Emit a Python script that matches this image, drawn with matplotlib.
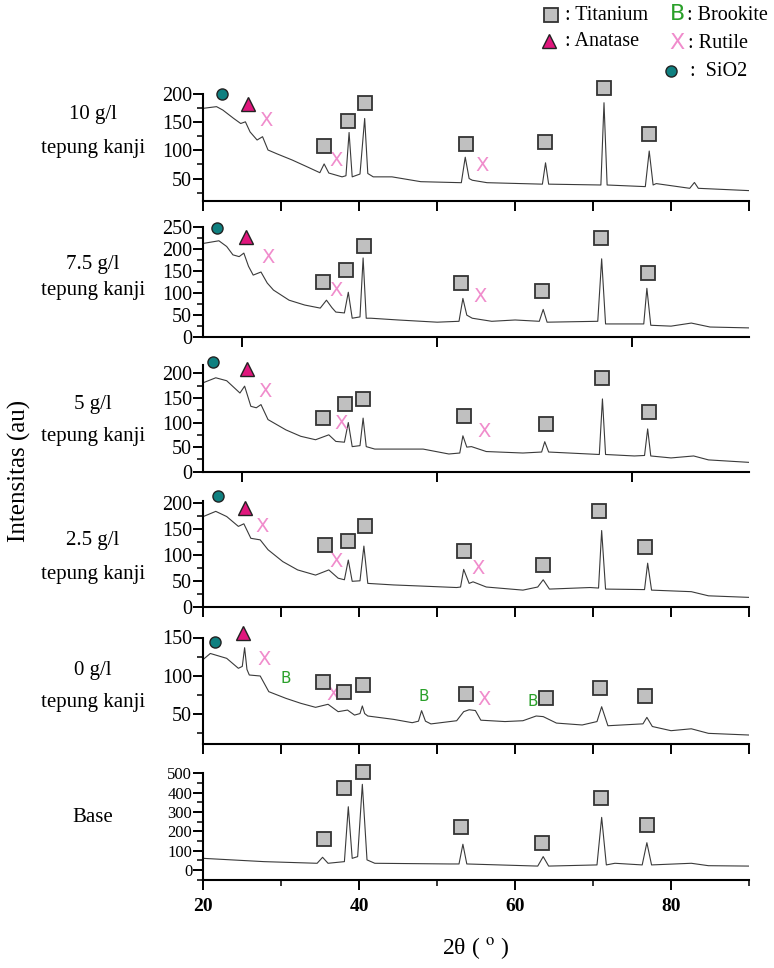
import matplotlib.pyplot as plt
from matplotlib.lines import Line2D
from matplotlib.ticker import MultipleLocator, FixedLocator, NullFormatter

plt.rcParams['font.family'] = ['Liberation Serif', 'DejaVu Serif']
plt.rcParams['mathtext.fontset'] = 'stix'

# ---- XRD traces (2theta, intensity) ----
x_10 = [20, 21, 21.7, 22.5, 23.9, 24.8, 25.4, 26.0, 26.9, 27.6, 28.3, 29.5, 31.4, 33.3, 34.95, 35.5, 36.1,
        37.8, 38.3, 38.7, 39.1, 40.1, 40.7, 41.1, 41.8, 44.2, 47.9, 53.1, 53.6, 54.1, 54.5, 56.4, 63.5, 63.9,
        64.3, 71.0, 71.4, 71.8, 76.7, 77.2, 77.7, 78.1, 82.4, 83.0, 83.5, 90]
y_10 = [175, 176.8, 178, 172, 157, 148, 151, 133, 118.6, 124.5, 100.8, 93.7, 83, 71, 60.4, 76, 59.8,
        53, 55, 132, 53, 58, 157, 59, 53, 53, 44.4, 42.6, 88, 50, 47, 42.6, 40, 78,
        40, 38.5, 185, 38.5, 35.6, 99, 38.5, 41, 32.6, 43, 32.6, 28.5]

x_75 = [20, 21.0, 22.0, 23.0, 23.8, 24.6, 25.2, 25.8, 26.4, 27.4, 28.2, 29.0, 31.0, 33.0, 35.0, 35.8, 36.5,
        37.0, 38.1, 38.6, 39.1, 40.1, 40.5, 40.9, 41.5, 45, 50, 52.8, 53.3, 53.8, 54.5, 57, 60, 63.1, 63.6,
        64.1, 70.6, 71.1, 71.6, 76.5, 76.9, 77.4, 80, 82.6, 85, 90]
y_75 = [212, 215, 218, 205, 186, 182, 190, 160, 140, 147, 122, 106, 83, 72, 65, 83, 66,
        56, 54, 101, 42, 45, 179, 42, 42, 38, 33, 35, 87, 49, 42, 35, 38, 35, 62,
        33, 35, 177, 29, 29, 110, 26, 24, 31, 22, 20]

x_5 = [20, 21.6, 23.0, 24.7, 25.3, 26.1, 26.8, 27.4, 28.3, 30.6, 32.5, 34.4, 36.1, 37.0, 38.1, 38.6, 39.1,
       40.1, 40.5, 40.9, 42.0, 48.2, 51.5, 52.9, 53.3, 53.8, 54.4, 56.3, 61.0, 63.4, 63.8, 64.3, 70.8, 71.2,
       71.6, 75.3, 76.6, 77.0, 77.4, 80, 82.9, 84.8, 90]
y_5 = [181, 191, 185, 160, 174, 133, 130, 136.5, 106, 85, 72, 65, 75, 61.6, 60, 100, 51,
       53, 109, 51, 46, 46, 36, 38, 73, 50, 51, 41, 38, 40, 61, 40, 35, 148,
       35, 32, 33, 87, 32, 28, 32, 24, 19]

x_25 = [20, 21.6, 23.0, 24.5, 25.2, 26.1, 27.3, 28.3, 30.2, 32.1, 34.4, 36.1, 37.3, 38.1, 38.6, 39.1, 40.1,
        40.6, 41.1, 44.4, 47.7, 52.5, 53.0, 53.4, 54.1, 54.6, 56.3, 61, 62.9, 63.6, 64.4, 69.6, 70.7, 71.1,
        71.6, 76.6, 77.0, 77.5, 82.6, 84.8, 90]
y_25 = [174, 184, 174, 155, 160, 132, 129, 110, 87, 71, 61, 71, 55, 52, 90, 49, 50,
        117, 45, 42, 40, 37, 38, 72, 45, 48, 38, 32, 38, 52, 34, 37, 36, 147,
        34, 33, 84, 32, 29, 21, 18]

x_0 = [20, 20.9, 23.0, 24.5, 25.0, 25.3, 25.6, 25.9, 27.3, 28.4, 30.6, 32.5, 34.4, 36.0, 37.3, 38.5, 39.4,
       40.1, 40.4, 40.7, 41.1, 44.4, 46.8, 47.6, 48.0, 48.5, 49.2, 52.5, 53.4, 54.1, 54.9, 55.6, 58.7, 61.0,
       62.7, 63.6, 65.3, 68.6, 70.5, 71.1, 71.9, 76.4, 76.9, 77.6, 80, 82.6, 84.8, 90]
y_0 = [121.3, 129, 122.6, 109.5, 112, 136.6, 108, 100.7, 99.4, 78.8, 70, 63.5, 58.2, 62.2, 52.5, 54.6, 48,
       50, 60, 50, 46.8, 42.4, 38, 40, 53.8, 40, 36.4, 40.6, 52.5, 55, 54, 41.3, 39.5, 40.6,
       46.8, 46, 37.5, 35, 39.5, 59, 34, 36.5, 45, 33, 27.5, 30, 24, 21.8]

x_base = [20, 27.8, 34.6, 35.3, 36.0, 38.1, 38.6, 39.1, 39.8, 40.4, 41.0, 42.0, 51.5, 52.8, 53.3, 53.8,
          62.9, 63.6, 64.3, 70.5, 71.1, 71.7, 72.8, 76.3, 76.9, 77.5, 82.6, 84.8, 90]
y_base = [60, 43, 34.5, 65.5, 34.5, 43, 327, 60, 69, 443, 52, 34.5, 31, 31, 133, 31,
          20, 69, 20, 26, 272, 26, 34.5, 26, 141, 26, 34.5, 22, 20]

# ---- phase markers (2theta, intensity) ----
ti_10 = [(35.5, 108.5), (38.6, 153), (40.7, 185), (53.7, 111), (63.8, 114.5), (71.4, 211.8), (77.2, 128.8)]
ru_10 = [(28.0, 153), (37.0, 83), (55.75, 73)]
an_10 = [(25.75, 182.7)]
si_10 = [(22.45, 200)]

ti_75 = [(35.4, 124), (38.3, 151), (40.6, 206), (53.0, 121), (63.4, 104), (71.0, 224), (77.1, 144)]
ru_75 = [(28.3, 181), (37.0, 106), (55.5, 92.5)]
an_75 = [(25.5, 227)]
si_75 = [(21.8, 246)]

ti_5 = [(35.4, 109), (38.2, 138), (40.5, 147), (53.4, 114), (63.9, 97), (71.2, 190), (77.2, 122)]
ru_5 = [(27.9, 164), (37.7, 99), (56.0, 82)]
an_5 = [(25.65, 209.6)]
si_5 = [(21.2, 223)]

ti_25 = [(35.6, 119), (38.5, 127), (40.75, 155), (53.4, 108), (63.6, 81), (70.75, 184), (76.7, 115)]
ru_25 = [(27.55, 155), (37.05, 87), (55.3, 74)]
an_25 = [(25.4, 190)]
si_25 = [(21.85, 214)]

ti_0 = [(35.4, 91), (38.0, 78), (40.5, 87.6), (53.7, 75.7), (63.9, 70.9), (70.9, 84), (76.7, 73)]
ru_0 = [(27.8, 121), (36.7, 75.7), (56.0, 68.8)]
an_0 = [(25.1, 155.5)]
si_0 = [(21.5, 144.5)]
br_0 = [(30.6, 96.4), (48.3, 72), (62.2, 65.6)]

ti_base = [(35.5, 160), (38.0, 426), (40.5, 509), (53.0, 221), (63.4, 141), (71.0, 374), (76.9, 233)]

names = ['10 g/l', '7.5 g/l', '5 g/l', '2.5 g/l', '0 g/l', 'Base']

TI = dict(marker='s', ls='none', ms=9.5, mfc='#c0c0c0', mec='#333333', mew=1.3)
AN = dict(marker='^', ls='none', ms=10, mfc='#e0177d', mec='#222222', mew=1.0)
SI = dict(marker='o', ls='none', ms=8, mfc='#0f8080', mec='#222222', mew=1.0)
RU_COL = '#f08ccc'
BR_COL = '#2aa02a'

fig = plt.figure(figsize=(7.74, 9.68), dpi=100)
W, H = 774, 968
left, right = 203.3, 749

# (top px, bottom px, ylim, major step, minor step, xticks)
panels = [
    (94.3, 201, (10, 200), 50, 25, 'ten'),
    (226.7, 336.7, (0, 250), 50, 25, 'quarter'),
    (365, 471.7, (0, 217), 50, 25, 'quarter'),
    (501, 606.7, (0, 204), 50, 25, 'ten'),
    (637.5, 744, (10, 150), 50, 25, 'ten'),
    (773.3, 880, (-52, 500), 100, 50, 'base'),
]
traces = [(x_10, y_10), (x_75, y_75), (x_5, y_5), (x_25, y_25), (x_0, y_0), (x_base, y_base)]
marks = [
    (ti_10, ru_10, an_10, si_10, []),
    (ti_75, ru_75, an_75, si_75, []),
    (ti_5, ru_5, an_5, si_5, []),
    (ti_25, ru_25, an_25, si_25, []),
    (ti_0, ru_0, an_0, si_0, br_0),
    (ti_base, [], [], [], []),
]
label_y = [(115, 149), (264, 290), (405, 437), (540, 575), (670, 702), (818, None)]

for i, (top, bot, ylim, maj, mnr, xt) in enumerate(panels):
    ax = fig.add_axes([left / W, 1 - bot / H, (right - left) / W, (bot - top) / H])
    xs, ys = traces[i]
    ax.plot(xs, ys, color='#3a3a3a', lw=0.8)
    ax.set_xlim(20, 90)
    ax.set_ylim(*ylim)
    for s in ['top', 'right']:
        ax.spines[s].set_visible(False)
    for s in ['left', 'bottom']:
        ax.spines[s].set_linewidth(1.5)
    ax.yaxis.set_major_locator(MultipleLocator(maj))
    ax.yaxis.set_minor_locator(MultipleLocator(mnr))
    if xt == 'ten':
        ax.xaxis.set_major_locator(MultipleLocator(10))
        ax.xaxis.set_minor_locator(FixedLocator([]))
        ax.xaxis.set_major_formatter(NullFormatter())
    elif xt == 'quarter':
        ax.xaxis.set_major_locator(FixedLocator([25, 50, 75]))
        ax.xaxis.set_minor_locator(FixedLocator([]))
        ax.xaxis.set_major_formatter(NullFormatter())
    else:
        ax.xaxis.set_major_locator(MultipleLocator(20))
        ax.xaxis.set_minor_locator(MultipleLocator(10))
    ax.tick_params(axis='both', which='major', direction='out', length=7, width=1.4)
    ax.tick_params(axis='both', which='minor', direction='out', length=4, width=1.1)
    ax.tick_params(axis='y', labelsize=12 if xt == 'base' else 14.5, pad=1)
    ax.tick_params(axis='x', labelsize=14, pad=6)
    if xt == 'base':
        for lab in ax.get_xticklabels():
            lab.set_fontweight('bold')

    ti, ru, an, si, br = marks[i]
    if ti:
        ax.plot([p[0] for p in ti], [p[1] for p in ti], clip_on=False, zorder=5, **TI)
    if an:
        ax.plot([p[0] for p in an], [p[1] for p in an], clip_on=False, zorder=5, **AN)
    if si:
        ax.plot([p[0] for p in si], [p[1] for p in si], clip_on=False, zorder=5, **SI)
    for (px, py) in ru:
        ax.text(px, py, 'X', color=RU_COL, fontsize=14, ha='center', va='center',
                family='DejaVu Sans', clip_on=False)
    for (px, py) in br:
        ax.text(px, py, 'B', color=BR_COL, fontsize=11, ha='center', va='center',
                family='DejaVu Sans', clip_on=False)

    y1, y2 = label_y[i]
    fig.text(93 / W, 1 - y1 / H, names[i], ha='center', va='center', fontsize=15)
    if y2 is not None:
        fig.text(93 / W, 1 - y2 / H, 'tepung kanji', ha='center', va='center', fontsize=15)

fig.text(19 / W, 1 - 471 / H, 'Intensitas (au)', rotation=90, ha='center', va='center', fontsize=18)
fig.text(476 / W, 1 - 948 / H, r'2θ ( $^{\mathrm{o}}$ )', ha='center', va='center', fontsize=17)

# legend at the top right
def fig_marker(px, py, style):
    fig.add_artist(Line2D([px / W], [1 - py / H], transform=fig.transFigure, **style))

fig_marker(551, 15, TI)
fig.text(565 / W, 1 - 15 / H, ': Titanium', ha='left', va='center', fontsize=14.5)
fig.text(678 / W, 1 - 14 / H, 'B', color=BR_COL, ha='center', va='center', fontsize=16, family='DejaVu Sans')
fig.text(687 / W, 1 - 15 / H, ': Brookite', ha='left', va='center', fontsize=14.5)
fig_marker(549, 41, AN)
fig.text(565 / W, 1 - 42 / H, ': Anatase', ha='left', va='center', fontsize=14.5)
fig.text(677 / W, 1 - 43 / H, 'X', color=RU_COL, ha='center', va='center', fontsize=16, family='DejaVu Sans')
fig.text(688 / W, 1 - 43 / H, ': Rutile', ha='left', va='center', fontsize=14.5)
fig_marker(671, 71, SI)
fig.text(690 / W, 1 - 71 / H, ':  SiO2', ha='left', va='center', fontsize=14.5)

fig.savefig('out.png', dpi=100)
